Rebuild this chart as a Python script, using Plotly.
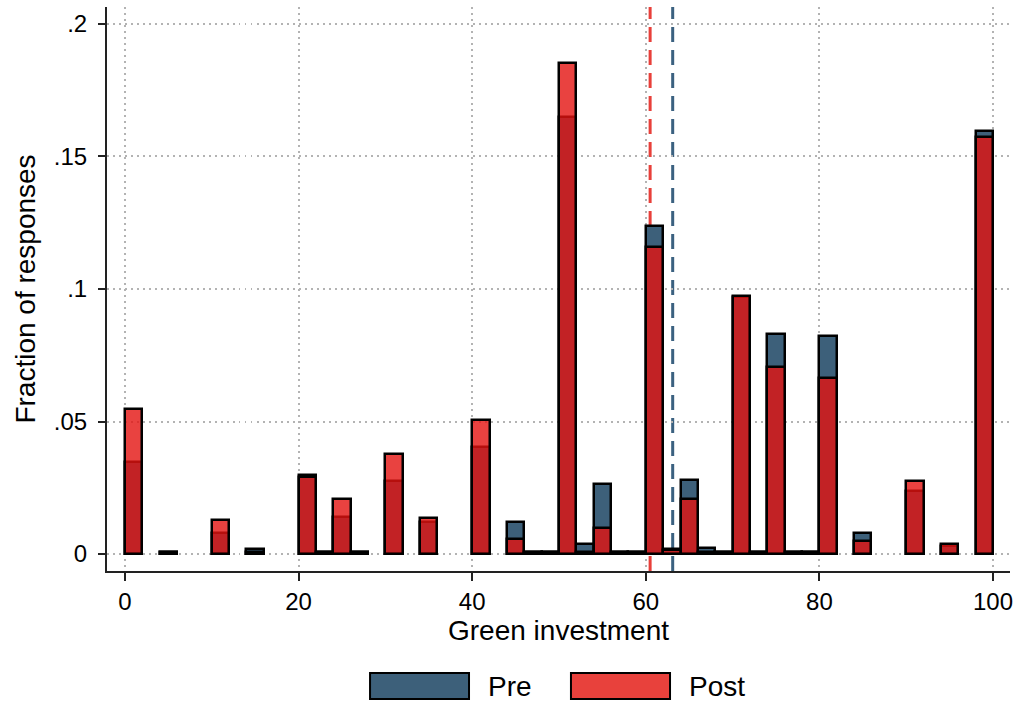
import plotly.graph_objects as go

# Histogram bins (left edge, width 2) and fraction of responses per bin
bin_start = [0, 4, 10, 14, 20, 22, 24, 26, 30, 34, 40, 44, 46, 48, 50, 52, 54,
             56, 58, 60, 62, 64, 66, 68, 70, 72, 74, 76, 78, 80, 84, 90, 94, 98]
pre_frac = [0.0347, 0.0008, 0.0080, 0.0018, 0.0300, 0.0008, 0.0141, 0.0008,
            0.0274, 0.0122, 0.0405, 0.0122, 0.0008, 0.0008, 0.1648, 0.0038,
            0.0264, 0.0008, 0.0008, 0.1238, 0.0018, 0.0280, 0.0024, 0.0008,
            0.0970, 0.0008, 0.0831, 0.0008, 0.0008, 0.0823, 0.0080, 0.0239,
            0.0030, 0.1597]
post_frac = [0.0548, 0.0008, 0.0129, 0.0008, 0.0290, 0.0008, 0.0209, 0.0008,
             0.0379, 0.0137, 0.0506, 0.0057, 0.0008, 0.0008, 0.1852, 0.0008,
             0.0097, 0.0008, 0.0008, 0.1160, 0.0016, 0.0209, 0.0008, 0.0008,
             0.0975, 0.0008, 0.0705, 0.0008, 0.0008, 0.0663, 0.0049, 0.0275,
             0.0039, 0.1575]
bin_width = 2

# Group means
pre_mean = 63.1
post_mean = 60.5

x_ticks = [0, 20, 40, 60, 80, 100]
y_ticks = [0, 0.05, 0.1, 0.15, 0.2]
y_tick_text = ["0", ".05", ".1", ".15", ".2"]

PRE_FILL = "rgb(61,96,122)"
POST_FILL = "rgba(227,19,16,0.8)"
PRE_LINE = "rgb(59,97,128)"
POST_LINE = "rgb(232,64,58)"
FONT = "Liberation Sans, Arial, Helvetica, sans-serif"

fig = go.Figure()
fig.add_trace(go.Bar(
    x=bin_start, y=pre_frac, width=bin_width, offset=0, name="Pre",
    marker=dict(color=PRE_FILL, line=dict(color="black", width=2.5)),
))
fig.add_trace(go.Bar(
    x=bin_start, y=post_frac, width=bin_width, offset=0, name="Post",
    marker=dict(color=POST_FILL, line=dict(color="black", width=2.5)),
))

# Dashed mean lines
for m, c in [(post_mean, POST_LINE), (pre_mean, PRE_LINE)]:
    fig.add_shape(type="line", xref="x", yref="paper", x0=m, x1=m, y0=0, y1=1,
                  line=dict(color=c, width=3, dash="15px,8px"), layer="between")

# Legend drawn as wide swatches below the axis
sw_y0, sw_y1 = -0.227, -0.181
for (x0, x1, fill, label, tx) in [(0.2913, 0.4009, PRE_FILL, "Pre", 0.4197),
                                  (0.5138, 0.6235, "rgb(232,65,60)", "Post", 0.6423)]:
    fig.add_shape(type="rect", xref="paper", yref="paper", x0=x0, x1=x1,
                  y0=sw_y0, y1=sw_y1, fillcolor=fill,
                  line=dict(color="black", width=2))
    fig.add_annotation(xref="paper", yref="paper", x=tx, y=(sw_y0 + sw_y1) / 2,
                       text=label, showarrow=False, xanchor="left",
                       yanchor="middle", font=dict(size=28, color="black"))

fig.update_layout(
    width=1020, height=704,
    margin=dict(l=107, r=10, t=7, b=133),
    paper_bgcolor="white", plot_bgcolor="white",
    barmode="overlay", bargap=0, showlegend=False,
    font=dict(family=FONT, color="black"),
)
grid = dict(showgrid=True, gridcolor="#b3b3b3", gridwidth=1.5,
            griddash="1.5px,4.5px", zeroline=False)
fig.update_xaxes(
    range=[-2.07, 101.96], tickvals=x_ticks, ticks="outside", ticklen=8,
    tickwidth=1.5, tickcolor="#222", tickfont=dict(size=24),
    showline=True, linecolor="#222", linewidth=2, **grid,
    title=dict(text="Green investment", font=dict(size=28), standoff=4),
)
fig.update_yaxes(
    range=[-0.0064, 0.2064], tickvals=y_ticks, ticktext=y_tick_text,
    ticks="outside", ticklen=7, tickwidth=1.5, tickcolor="#222",
    tickfont=dict(size=24), ticklabelstandoff=6,
    showline=True, linecolor="#222", linewidth=2, **grid,
    title=dict(text="Fraction of responses", font=dict(size=28), standoff=10),
)

fig.write_html("out.html")
